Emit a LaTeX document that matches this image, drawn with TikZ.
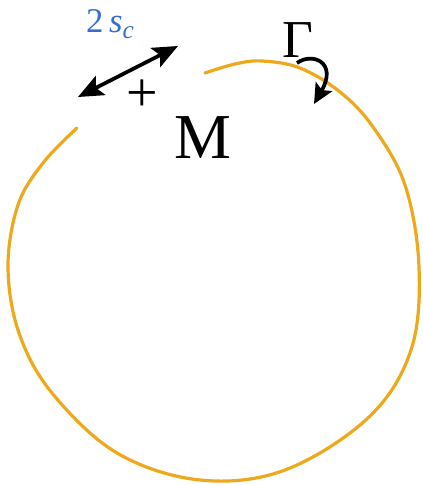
\documentclass[tikz,border=0pt]{standalone}
\usepackage{fontspec}
\setmainfont{Liberation Serif}
\usepackage{xcolor}
\usetikzlibrary{arrows.meta}

\definecolor{loopcol}{RGB}{238,168,28}
\definecolor{labelcol}{RGB}{55,110,205}

\begin{document}
\begin{tikzpicture}[
    x=0.75pt, y=-0.75pt,
    loop/.style={draw=loopcol, line width=2.4pt, line cap=round},
    head/.style={line width=2.8pt},
    tip/.tip={Stealth[length=19pt, width=16pt, inset=4pt]}
]
    \useasboundingbox (0,0) rectangle (423,485);

    % closed path (with a gap near the top left)
    \draw[loop] plot[smooth, tension=0.6] coordinates {
        (205,73) (235,64) (262,61) (300,68) (340,92) (373,127) (405,185)
        (419,267) (411,350) (369,417) (285,470) (200,480) (117,453)
        (52,393) (19,333) (8,267) (18,205) (43,163) (77,128)};

    % core size
    \coordinate (sl) at (78,97);
    \coordinate (sr) at (178,46);
    \draw[head, tip-tip] (sl) -- (sr);
    \node[text=labelcol, font=\fontsize{26}{26}\selectfont] (size) at (110,24) {2\,\textit{s}\raisebox{-0.35ex}{\fontsize{19}{19}\selectfont\textit{c}}};

    % centre
    \node[font=\fontsize{42}{42}\selectfont, inner sep=0pt] (centre) at (142,96) {+};
    \node[font=\fontsize{48}{48}\selectfont, inner sep=0pt] (mass) at (203,138) {M};

    % circulation
    \node[font=\fontsize{40}{40}\selectfont, inner sep=0pt] (circ) at (298,40) {Γ};
    \coordinate (ctip) at (314,104);
    \draw[head, -{Stealth[length=15pt, width=14pt, inset=3pt]}]
        (297,63) .. controls (312,52) and (338,62) .. (ctip);
\end{tikzpicture}
\end{document}
